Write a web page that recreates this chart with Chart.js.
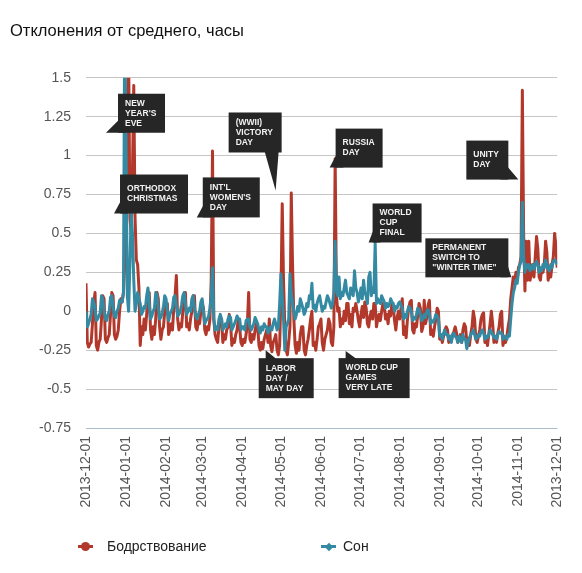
<!DOCTYPE html>
<html>
<head>
<meta charset="utf-8">
<script src="https://cdn.jsdelivr.net/npm/chart.js@4"></script>
<style>
  body { margin: 0; background: #fff; font-family: "Liberation Sans", Arial, sans-serif; }
  #wrap { position: relative; width: 582px; height: 573px; }
  .legend { position: absolute; top: 537px; left: 0; width: 582px; height: 20px; font-size: 14px; color: #222; }
  .legend .item { position: absolute; top: 0; line-height: 18px; white-space: nowrap; }
  .legend .mk { position: absolute; top: 8px; height: 3px; width: 15px; }
  .legend .mk::after { content: ''; position: absolute; background: inherit; }
  .legend .red { left: -29px; background: #b1382a; }
  .legend .red::after { width: 9px; height: 9px; border-radius: 50%; left: 3px; top: -3px; }
  .legend .teal { left: -22px; background: #358aa3; }
  .legend .teal::after { width: 6px; height: 6px; left: 4.5px; top: -1.5px; transform: rotate(45deg); }
</style>
</head>
<body>
<div id="wrap">
  <canvas id="sleep-chart"></canvas>
  <div class="legend">
    <span class="item" style="left:107px"><i class="mk red"></i>Бодрствование</span>
    <span class="item" style="left:343px"><i class="mk teal"></i>Сон</span>
  </div>
</div>
<script>
'use strict';

// ------- Data: one value per day, starting 2013-12-01 (weeks start on Sunday) ------- //
const wake = [
  0.18, -0.2, -0.23, -0.21, -0.2, -0.08, 0.05,
  0.12, -0.22, -0.25, -0.2, -0.18, -0.05, 0.1,
  0.08, -0.18, -0.2, -0.17, -0.15, -0.02, 0.12,
  0.1, -0.15, -0.18, -0.16, -0.12, 0.0, 0.08,
  0.06, 0.12, 0.3, 0.5, 0.9, 1.7, 0.6,
  0.5, 0.9, 1.45, 0.6, 0.33, 0.3, 0.15,
  -0.22, -0.1, -0.15, -0.05, -0.12, -0.02, 0.1,
  0.12, -0.12, -0.18, -0.1, -0.15, -0.05, 0.12,
  0.08, -0.1, -0.18, -0.12, -0.1, 0.0, 0.05,
  0.05, -0.15, -0.12, -0.08, -0.12, 0.02, 0.1,
  0.23, -0.05, -0.12, -0.08, -0.1, 0.0, 0.08,
  0.12, -0.1, -0.08, -0.12, -0.05, 0.0, 0.1,
  0.1, -0.1, -0.12, -0.06, -0.08, 0.0, 0.05,
  0.02, -0.12, -0.15, -0.1, -0.12, -0.05, 0.2,
  1.03, -0.05, -0.15, -0.18, -0.2, -0.1, -0.05,
  -0.05, -0.2, -0.15, -0.18, -0.12, -0.1, -0.02,
  -0.08, -0.22, -0.18, -0.2, -0.15, -0.12, -0.05,
  -0.1, -0.2, -0.22, -0.18, -0.2, -0.15, -0.08,
  0.12, -0.18, -0.2, -0.15, -0.18, -0.12, -0.08,
  -0.1, -0.22, -0.25, -0.2, -0.24, -0.18, -0.15,
  -0.12, -0.2, -0.05, -0.22, -0.26, -0.2, -0.18,
  -0.15, -0.25, -0.28, -0.22, 0.1, 0.69, 0.2,
  -0.1, -0.25, -0.28, -0.2, -0.1, 0.76, 0.3,
  -0.05, -0.22, -0.27, -0.2, -0.25, -0.15, -0.1,
  -0.1, -0.25, -0.28, -0.22, -0.18, -0.12, -0.05,
  0.0, -0.22, -0.2, -0.25, -0.18, -0.1, -0.08,
  -0.05, -0.2, -0.25, -0.18, -0.15, -0.12, -0.05,
  -0.08, -0.2, -0.22, -0.1, 0.98, 0.1, 0.0,
  0.02, -0.1, -0.05, -0.08, 0.0, -0.06, 0.05,
  0.05, -0.08, -0.02, -0.1, 0.02, 0.0, 0.05,
  0.0, -0.06, -0.1, -0.02, 0.03, -0.04, 0.06,
  0.02, -0.08, -0.1, -0.03, 0.0, -0.05, 0.05,
  0.05, -0.1, -0.05, -0.02, -0.06, 0.0, 0.05,
  0.04, -0.05, -0.02, -0.08, 0.0, -0.03, 0.05,
  0.03, -0.06, -0.12, -0.04, 0.0, -0.05, 0.02,
  0.08, -0.15, -0.1, -0.17, -0.05, 0.02, 0.06,
  0.07, -0.12, -0.14, -0.08, -0.1, -0.02, 0.05,
  0.02, -0.13, -0.1, 0.07, -0.08, -0.04, 0.04,
  0.07, -0.15, -0.12, -0.16, -0.1, -0.05, 0.02,
  0.0, -0.18, -0.15, -0.2, -0.16, -0.12, -0.1,
  -0.12, -0.2, -0.17, -0.19, -0.15, -0.13, -0.1,
  -0.14, -0.2, -0.18, -0.15, -0.2, -0.12, -0.08,
  -0.1, -0.2, -0.18, -0.22, -0.15, -0.1, 0.0,
  -0.05, -0.18, -0.2, -0.16, -0.12, -0.05, -0.02,
  -0.01, -0.2, -0.18, -0.22, -0.15, -0.08, 0.0,
  -0.08, -0.2, -0.17, -0.2, -0.14, -0.1, -0.02,
  0.0, -0.22, -0.18, -0.2, -0.16, -0.1, -0.05,
  0.08, 0.15, 0.22, 0.18, 0.25, 0.2, 0.28,
  0.3, 0.35, 1.42, 0.5, 0.13, 0.45, 0.2,
  0.45, 0.2, 0.25, 0.3, 0.22, 0.35, 0.48,
  0.4, 0.22, 0.2, 0.28, 0.25, 0.3, 0.45,
  0.38, 0.2, 0.25, 0.22, 0.3, 0.35, 0.5,
  0.42, 0.28,
];

const sleep = [
  0.0, -0.1, -0.08, -0.05, -0.02, 0.08, 0.06,
  0.02, -0.06, -0.05, -0.03, -0.01, 0.1, 0.08,
  0.0, -0.05, -0.06, -0.02, 0.0, 0.09, 0.1,
  0.03, -0.03, -0.04, 0.0, 0.02, 0.07, 0.06,
  0.06, 0.12, 1.9, 1.1, 0.1, 0.0, 0.3,
  0.63, 0.5, 0.2, 0.0, 0.05, 0.12, 0.08,
  0.05, -0.02, 0.0, 0.03, 0.02, 0.1, 0.15,
  0.05, -0.05, -0.03, 0.0, 0.02, 0.12, 0.1,
  0.02, -0.05, -0.04, -0.01, 0.03, 0.1, 0.08,
  0.0, -0.06, -0.02, 0.0, 0.02, 0.09, 0.1,
  0.03, -0.03, -0.02, 0.0, 0.04, 0.1, 0.12,
  0.05, -0.02, 0.0, 0.02, 0.0, 0.08, 0.1,
  0.02, -0.03, -0.05, -0.02, 0.0, 0.06, 0.08,
  0.0, -0.08, -0.06, -0.05, -0.03, 0.02, 0.1,
  0.28, -0.05, -0.12, -0.1, -0.12, -0.05, -0.02,
  -0.05, -0.12, -0.1, -0.08, -0.1, -0.05, -0.03,
  -0.04, -0.12, -0.1, -0.08, -0.06, -0.03, -0.05,
  -0.05, -0.12, -0.1, -0.1, -0.12, -0.06, -0.05,
  -0.05, -0.1, -0.12, -0.1, -0.08, -0.04, -0.06,
  -0.08, -0.12, -0.14, -0.1, -0.12, -0.08, -0.1,
  -0.1, -0.14, -0.12, -0.1, -0.12, -0.08, -0.05,
  -0.08, -0.12, -0.1, 0.05, 0.24, 0.1, -0.05,
  -0.25, -0.1, -0.08, -0.05, 0.24, 0.12, 0.05,
  0.0, -0.05, -0.02, 0.03, 0.0, 0.08, 0.05,
  0.02, -0.02, 0.0, 0.05, 0.03, 0.1, 0.08,
  0.18, 0.02, 0.04, 0.0, 0.05, 0.08, 0.1,
  0.05, 0.0, 0.03, 0.02, 0.06, 0.1, 0.08,
  0.05, 0.02, 0.05, 0.12, 0.45, 0.15, 0.1,
  0.22, 0.08, 0.12, 0.1, 0.15, 0.2, 0.12,
  0.1, 0.08, 0.15, 0.12, 0.1, 0.26, 0.15,
  0.12, 0.06, 0.1, 0.15, 0.08, 0.2, 0.12,
  0.1, 0.05, 0.22, 0.25, 0.1, 0.15, 0.12,
  0.44, 0.05, 0.08, 0.06, 0.05, 0.1, 0.08,
  0.06, 0.02, 0.05, 0.03, 0.04, 0.08, 0.06,
  0.05, 0.0, 0.03, 0.02, 0.05, 0.06, 0.04,
  0.02, -0.05, -0.02, -0.04, 0.0, 0.03, 0.02,
  0.0, -0.06, -0.04, -0.05, -0.02, 0.02, 0.01,
  -0.02, -0.06, -0.05, -0.02, -0.04, 0.0, 0.01,
  -0.02, -0.08, -0.06, -0.07, -0.05, -0.02, -0.03,
  -0.05, -0.16, -0.15, -0.18, -0.14, -0.12, -0.15,
  -0.15, -0.18, -0.16, -0.2, -0.15, -0.14, -0.16,
  -0.17, -0.2, -0.16, -0.18, -0.2, -0.15, -0.18,
  -0.18, -0.24, -0.2, -0.17, -0.15, -0.14, -0.12,
  -0.15, -0.18, -0.17, -0.15, -0.16, -0.13, -0.12,
  -0.14, -0.18, -0.16, -0.17, -0.15, -0.12, -0.13,
  -0.15, -0.17, -0.16, -0.18, -0.15, -0.13, -0.14,
  -0.14, -0.18, -0.16, -0.17, -0.18, -0.15, -0.16,
  -0.05, 0.05, 0.12, 0.15, 0.2, 0.18, 0.25,
  0.3, 0.32, 0.7, 0.35, 0.25, 0.3, 0.28,
  0.3, 0.26, 0.28, 0.3, 0.27, 0.3, 0.32,
  0.3, 0.25, 0.28, 0.26, 0.3, 0.28, 0.33,
  0.3, 0.27, 0.26, 0.3, 0.28, 0.32, 0.33,
  0.32, 0.3,
];

// month starts (day index) and the labels printed under them
const tickDays = [0, 31, 62, 90, 121, 151, 182, 212, 243, 274, 304, 335, 365];
const tickLabels = [
  '2013-12-01', '2014-01-01', '2014-02-01', '2014-03-01', '2014-04-01', '2014-05-01',
  '2014-06-01', '2014-07-01', '2014-08-01', '2014-09-01', '2014-10-01', '2014-11-01', '2013-12-01',
];
const seriesNames = ['Бодрствование', 'Сон'];

// ------- Callouts: tip is in data units, box offset in px from the tip ------- //
const notes = [
  { lines: ['NEW', "YEAR'S", 'EVE'], day: 15.5, value: 1.147, dx: 12, dy: -39, w: 47, h: 39, tail: 'left' },
  { lines: ['ORTHODOX', 'CHRISTMAS'], day: 21.7, value: 0.628, dx: 6, dy: -39, w: 68, h: 39, tail: 'left' },
  { lines: ["INT'L", "WOMEN'S", 'DAY'], day: 85.8, value: 0.603, dx: 6, dy: -40, w: 57, h: 40, tail: 'left' },
  { lines: ['(WWII)', 'VICTORY', 'DAY'], day: 146.9, value: 0.776, dx: -47, dy: -78, w: 53, h: 40, tail: 'down' },
  { lines: ['RUSSIA', 'DAY'], day: 188.7, value: 0.923, dx: 6, dy: -39, w: 47, h: 39, tail: 'left' },
  { lines: ['WORLD', 'CUP', 'FINAL'], day: 218.9, value: 0.442, dx: 4, dy: -39, w: 49, h: 39, tail: 'left' },
  { lines: ['UNITY', 'DAY'], day: 334.9, value: 0.846, dx: -52, dy: -39, w: 42, h: 39, tail: 'right' },
  { lines: ['PERMANENT', 'SWITCH TO', '"WINTER TIME"'], day: 329.5, value: 0.218, dx: -86, dy: -39, w: 83, h: 39, tail: 'right' },
  { lines: ['LABOR', 'DAY /', 'MAY DAY'], day: 139.2, value: -0.25, dx: -7, dy: 8, w: 55, h: 40, tail: 'up' },
  { lines: ['WORLD CUP', 'GAMES', 'VERY LATE'], day: 201.1, value: -0.256, dx: -7, dy: 7, w: 71, h: 40, tail: 'up' },
];

const calloutPlugin = {
  id: 'callouts',
  afterDatasetsDraw(chart) {
    const { ctx, scales } = chart;
    ctx.save();
    ctx.font = 'bold 8.5px "Liberation Sans", Arial, sans-serif';
    ctx.textBaseline = 'middle';
    notes.forEach((n) => {
      const tx = scales.x.getPixelForValue(n.day);
      const ty = scales.y.getPixelForValue(n.value);
      const bx = tx + n.dx;
      const by = ty + n.dy;
      ctx.fillStyle = '#262626';
      ctx.fillRect(bx, by, n.w, n.h);
      ctx.beginPath();
      ctx.moveTo(tx, ty);
      if (n.tail === 'left') {
        ctx.lineTo(bx + 1, by + n.h - 13);
        ctx.lineTo(bx + 8, by + n.h);
      } else if (n.tail === 'right') {
        ctx.lineTo(bx + n.w - 1, by + n.h - 13);
        ctx.lineTo(bx + n.w - 8, by + n.h);
      } else if (n.tail === 'down') {
        ctx.lineTo(tx - 11, by + n.h - 1);
        ctx.lineTo(tx + 3, by + n.h - 1);
      } else {
        ctx.lineTo(tx, by + 1);
        ctx.lineTo(tx + 11, by + 1);
      }
      ctx.closePath();
      ctx.fill();
      ctx.fillStyle = '#f2f2f2';
      const mid = by + n.h / 2;
      n.lines.forEach((line, i) => {
        ctx.fillText(line, bx + 7, mid + (i - (n.lines.length - 1) / 2) * 10);
      });
    });
    ctx.restore();
  },
};

Chart.defaults.font.family = '"Liberation Sans", Arial, sans-serif';

new Chart(document.getElementById('sleep-chart'), {
  type: 'line',
  data: {
    datasets: [
      {
        label: seriesNames[0],
        data: wake.map((v, i) => ({ x: i, y: v })),
        borderColor: '#b1382a',
        backgroundColor: '#b1382a',
        borderWidth: 3,
        order: 2,
      },
      {
        label: seriesNames[1],
        data: sleep.map((v, i) => ({ x: i, y: v })),
        borderColor: '#358aa3',
        backgroundColor: '#358aa3',
        borderWidth: 3,
        order: 1,
      },
    ],
  },
  options: {
    responsive: true,
    maintainAspectRatio: false,
    animation: false,
    elements: {
      point: { radius: 0 },
      line: { tension: 0, borderJoinStyle: 'round' },
    },
    layout: {
      padding: { left: 10, right: 24, top: 0, bottom: 55 },
    },
    scales: {
      x: {
        type: 'linear',
        min: 0,
        max: 365,
        afterBuildTicks: (scale) => {
          scale.ticks = tickDays.map((d) => ({ value: d }));
        },
        afterFit: (scale) => {
          scale.height = 90;
        },
        grid: { display: false, drawTicks: false },
        border: { display: false },
        ticks: {
          autoSkip: false,
          minRotation: 90,
          maxRotation: 90,
          padding: 8,
          color: '#555',
          font: { size: 14 },
          callback: (value, index) => tickLabels[index],
        },
      },
      y: {
        min: -0.75,
        max: 1.5,
        afterFit: (scale) => {
          scale.width = 76;
        },
        border: { display: false },
        grid: {
          drawTicks: false,
          color: (c) => (c.tick && c.tick.value === -0.75 ? '#a9bccb' : '#c6c6c6'),
        },
        ticks: {
          stepSize: 0.25,
          padding: 15,
          color: '#555',
          font: { size: 14 },
          callback: (value) => String(parseFloat(value.toFixed(2))),
        },
      },
    },
    plugins: {
      legend: { display: false },
      tooltip: { enabled: false },
      title: {
        display: true,
        text: 'Отклонения от среднего, часы',
        align: 'start',
        color: '#111',
        font: { size: 16.5, weight: 'normal' },
        padding: { top: 22, bottom: 36 },
      },
    },
  },
  plugins: [calloutPlugin],
});
</script>
</body>
</html>
